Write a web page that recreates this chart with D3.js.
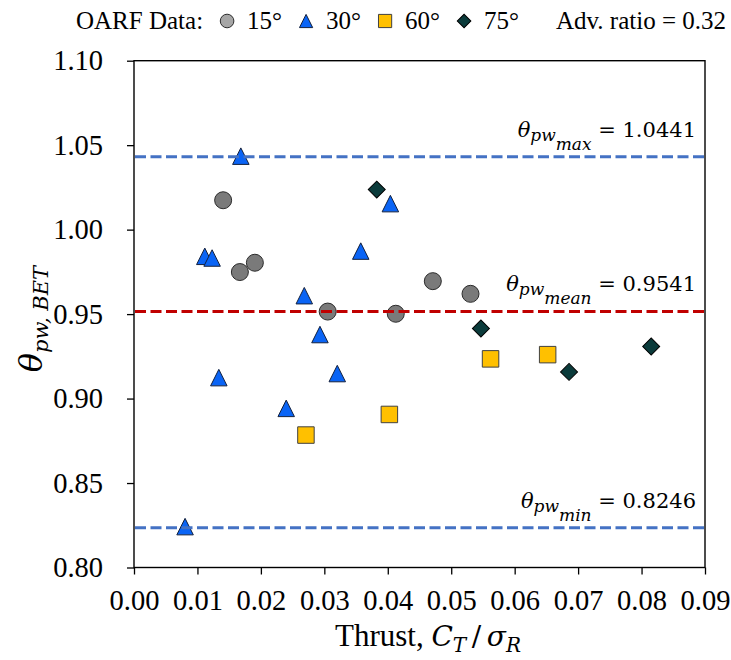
<!DOCTYPE html>
<html>
<head>
<meta charset="utf-8">
<script src="https://cdn.jsdelivr.net/npm/d3@7"></script>
<style>
  body { margin: 0; background: #fff; }
  svg { display: block; }
</style>
</head>
<body>
<div id="chart"></div>
<script>
/* global d3 */

const WIDTH = 731
const HEIGHT = 660
const MARGIN = { top: 61, right: 26, bottom: 93, left: 134 }

// data (thrust C_T/sigma_R, theta_pw,BET)
const ct15 = [0.01405, 0.01669, 0.01905, 0.03053, 0.04126, 0.04710, 0.05304]
const th15 = [1.0174, 0.9749, 0.9804, 0.9515, 0.9502, 0.9695, 0.9620]

const ct30 = [0.00805, 0.01116, 0.01231, 0.01337, 0.01684, 0.02399, 0.02684, 0.02931, 0.03204, 0.03574, 0.04041]
const th30 = [0.8242, 0.9842, 0.9832, 0.9124, 1.0435, 0.8942, 0.9609, 0.9379, 0.9148, 0.9873, 1.0154]

const ct60 = [0.0271, 0.04025, 0.0562, 0.0652]
const th60 = [0.8784, 0.8906, 0.9235, 0.9260]

const ct75 = [0.03826, 0.05468, 0.06857, 0.08152]
const th75 = [1.0237, 0.9415, 0.9158, 0.9308]

const seriesNames = ['15°', '30°', '60°', '75°']

// reference lines: where they are drawn, and the label printed above them
const refLevels = [1.0431, 0.9516, 0.8236]
const refNames = ['max', 'mean', 'min']
const refLabels = ['1.0441', '0.9541', '0.8246']

const xTickVals = [0, 0.01, 0.02, 0.03, 0.04, 0.05, 0.06, 0.07, 0.08, 0.09]
const yTickVals = [0.80, 0.85, 0.90, 0.95, 1.00, 1.05, 1.10]
const advRatio = '0.32'

// a triangle centred on its box, as Excel draws it
const boxTriangle = {
  draw(ctx, size) {
    const w = Math.sqrt(size)
    ctx.moveTo(0, -w / 2)
    ctx.lineTo(w / 2, w / 2)
    ctx.lineTo(-w / 2, w / 2)
    ctx.closePath()
  }
}

const styles = [
  { type: d3.symbolCircle, size: 227, fill: '#7a7a7a', stroke: '#2b2b2b', rotate: 0 },
  { type: boxTriangle, size: 272, fill: '#0a64f5', stroke: '#14213d', rotate: 0 },
  { type: d3.symbolSquare, size: 272, fill: '#ffc000', stroke: '#404040', rotate: 0 },
  { type: d3.symbolSquare, size: 144, fill: '#0b3b3b', stroke: '#000', rotate: 45 }
]

const series = [
  { ct: ct15, th: th15 },
  { ct: ct30, th: th30 },
  { ct: ct60, th: th60 },
  { ct: ct75, th: th75 }
].map((s, i) => ({
  name: seriesNames[i],
  style: styles[i],
  points: s.ct.map((c, j) => ({ c, t: s.th[j] }))
}))

const svg = d3.select('#chart')
  .append('svg')
  .attr('width', WIDTH)
  .attr('height', HEIGHT)

const x = d3.scaleLinear()
  .domain([0, 0.09])
  .range([MARGIN.left, WIDTH - MARGIN.right])

const y = d3.scaleLinear()
  .domain([0.8, 1.1])
  .range([HEIGHT - MARGIN.bottom + 0.5, MARGIN.top - 0.3])

// axes
const xAxis = svg.append('g')
  .attr('transform', `translate(0,${y(0.8)})`)
  .call(d3.axisBottom(x).tickValues(xTickVals).tickFormat(d3.format('.2f'))
    .tickSize(7).tickSizeOuter(0).tickPadding(15))
const yAxis = svg.append('g')
  .attr('transform', `translate(${x(0)},0)`)
  .call(d3.axisLeft(y).tickValues(yTickVals).tickFormat(d3.format('.2f'))
    .tickSize(7).tickSizeOuter(0).tickPadding(24))

;[xAxis, yAxis].forEach((g) => {
  g.select('.domain').remove()
  g.selectAll('line').attr('stroke', '#000').attr('stroke-width', 1.3)
  g.selectAll('text')
    .attr('fill', '#000')
    .style('font-family', '"Liberation Serif", "Times New Roman", serif')
    .style('font-size', '28.5px')
})

// plot frame
svg.append('rect')
  .attr('x', x(0))
  .attr('y', y(1.1))
  .attr('width', x(0.09) - x(0))
  .attr('height', y(0.8) - y(1.1))
  .attr('fill', 'none')
  .attr('stroke', '#000')
  .attr('stroke-width', 1.4)

// markers
const symbolFor = (st, k = 1) => d3.symbol().type(st.type).size(st.size * k * k)

series.forEach((s) => {
  svg.append('g')
    .selectAll('path')
    .data(s.points)
    .join('path')
    .attr('d', symbolFor(s.style))
    .attr('transform', (d) => `translate(${x(d.c)},${y(d.t)}) rotate(${s.style.rotate})`)
    .attr('fill', s.style.fill)
    .attr('stroke', s.style.stroke)
    .attr('stroke-width', 1)
})

// dashed reference lines, drawn over the markers
const refs = refLevels.map((v, i) => ({ v, name: refNames[i], label: refLabels[i] }))
svg.append('g')
  .selectAll('line')
  .data(refs)
  .join('line')
  .attr('x1', x(0) + 1)
  .attr('x2', x(0.09) - 1)
  .attr('y1', (d) => y(d.v))
  .attr('y2', (d) => y(d.v))
  .attr('stroke', (d) => d.name === 'mean' ? '#c00000' : '#4472c4')
  .attr('stroke-width', 3)
  .attr('stroke-dasharray', '11 4.5')

const refText = svg.append('g')
  .selectAll('text')
  .data(refs)
  .join('text')
  .attr('x', x(0.09) - 9)
  .attr('y', (d) => y(d.v) - 20)
  .attr('text-anchor', 'end')
  .attr('fill', '#000')
  .style('font-family', '"DejaVu Serif", serif')
  .style('font-size', '21px')
refText.append('tspan').style('font-style', 'italic').text('θ')
refText.append('tspan').style('font-style', 'italic').style('font-size', '17px').attr('dy', 4).text('pw')
refText.append('tspan').style('font-style', 'italic').style('font-size', '17px').attr('dy', 9).text((d) => d.name)
refText.append('tspan').attr('dy', -13).text((d) => `\u00a0= ${d.label}`)

// axis titles
const mathFont = '"DejaVu Serif", serif'
const xTitle = svg.append('text')
  .attr('x', 428)
  .attr('y', 646)
  .attr('text-anchor', 'middle')
  .attr('fill', '#000')
  .style('font-family', '"Liberation Serif", serif')
  .style('font-size', '31px')
xTitle.append('tspan').text('Thrust,\u00a0')
xTitle.append('tspan').style('font-family', mathFont).style('font-style', 'italic').style('font-size', '28px').text('C')
xTitle.append('tspan').style('font-family', mathFont).style('font-style', 'italic').style('font-size', '20px').attr('dy', 6).text('T')
xTitle.append('tspan').style('font-family', mathFont).style('font-size', '28px').attr('dy', -6).text('\u2009/\u2009')
xTitle.append('tspan').style('font-family', mathFont).style('font-style', 'italic').style('font-size', '28px').text('σ')
xTitle.append('tspan').style('font-family', mathFont).style('font-style', 'italic').style('font-size', '20px').attr('dy', 6).text('R')

const yTitle = svg.append('text')
  .attr('transform', `translate(42,${(y(0.8) + y(1.1)) / 2 + 5}) rotate(-90)`)
  .attr('text-anchor', 'middle')
  .attr('fill', '#000')
  .style('font-family', mathFont)
  .style('font-style', 'italic')
yTitle.append('tspan').style('font-size', '32px').text('θ')
yTitle.append('tspan').style('font-size', '21px').attr('dy', 6).text('pw, BET')

// legend across the top, laid out left to right
const legend = svg.append('g').attr('transform', 'translate(0,21)')
const legendFont = (sel) => sel
  .attr('fill', '#000')
  .attr('dy', '0.33em')
  .style('font-family', '"Liberation Serif", "Times New Roman", serif')
  .style('font-size', '25px')

let cursor = 76
const head = legend.append('text').attr('x', cursor).call(legendFont).text('OARF Data:')
cursor += head.node().getComputedTextLength()
series.forEach((s) => {
  cursor += 24
  legend.append('path')
    .attr('d', symbolFor(s.style, 0.8))
    .attr('transform', `translate(${cursor},0) rotate(${s.style.rotate})`)
    .attr('fill', s.name === '15°' ? '#a6a6a6' : s.style.fill)
    .attr('stroke', s.style.stroke)
    .attr('stroke-width', 1)
  cursor += 20
  const t = legend.append('text').attr('x', cursor).call(legendFont).text(s.name)
  cursor += t.node().getComputedTextLength()
})
legend.append('text')
  .attr('x', 726)
  .attr('text-anchor', 'end')
  .call(legendFont)
  .text(`Adv. ratio = ${advRatio}`)
</script>
</body>
</html>
